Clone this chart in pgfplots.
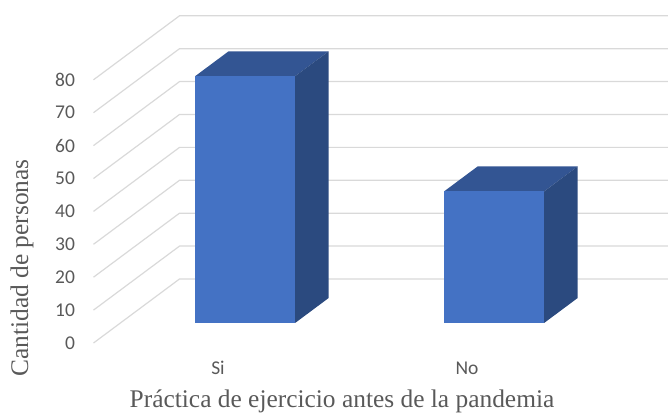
\documentclass[border=0pt]{standalone}
\usepackage{fontspec}
\setmainfont{Liberation Serif}
\newfontfamily\calib{Carlito}
\usepackage{pgfplots}
\pgfplotsset{compat=1.18}
\definecolor{front}{HTML}{4472C4}
\definecolor{topc}{HTML}{335593}
\definecolor{side}{HTML}{2B4A7F}
\definecolor{gridc}{HTML}{D9D9D9}
\definecolor{txt}{HTML}{595959}
\begin{document}
\begin{tikzpicture}
\begin{axis}[
  x={(249pt,0pt)}, y={(86pt,64pt)}, z={(0pt,3.29pt)},
  hide axis, clip=false,
  xmin=-0.5, xmax=1.462, ymin=0, ymax=1, zmin=0, zmax=80,
]
\coordinate (O) at (axis cs:0,0,0);
% gridlines: left wall and back wall
\pgfplotsinvokeforeach{0,10,...,80}{
  \addplot3[gridc, line width=1.2pt] coordinates {(-0.5,0,#1) (-0.5,1,#1) (1.462,1,#1)};
  \node[anchor=east, text=txt, font=\calib\fontsize{19.5}{19.5}\selectfont] at (axis cs:-0.5,0,#1) [xshift=-15pt] {#1};
}
% Bar "Si" = 75
\addplot3[fill=topc, draw=none] coordinates {(-0.2,0.3125,75) (0.2016,0.3125,75) (0.2016,0.703,75) (-0.2,0.703,75)};
\addplot3[fill=side, draw=none] coordinates {(0.2016,0.3125,0) (0.2016,0.703,0) (0.2016,0.703,75) (0.2016,0.3125,75)};
\addplot3[fill=front, draw=none] coordinates {(-0.2,0.3125,0) (0.2016,0.3125,0) (0.2016,0.3125,75) (-0.2,0.3125,75)};
% Bar "No" = 40
\addplot3[fill=topc, draw=none] coordinates {(0.8,0.3125,40) (1.2016,0.3125,40) (1.2016,0.703,40) (0.8,0.703,40)};
\addplot3[fill=side, draw=none] coordinates {(1.2016,0.3125,0) (1.2016,0.703,0) (1.2016,0.703,40) (1.2016,0.3125,40)};
\addplot3[fill=front, draw=none] coordinates {(0.8,0.3125,0) (1.2016,0.3125,0) (1.2016,0.3125,40) (0.8,0.3125,40)};
% category labels
\node[text=txt, font=\calib\fontsize{19.5}{19.5}\selectfont] at (axis cs:0,0,0) [yshift=-25pt] {Si};
\node[text=txt, font=\calib\fontsize{19.5}{19.5}\selectfont] at (axis cs:1,0,0) [yshift=-25pt] {No};
\end{axis}
\node[rotate=90, text=txt, font=\fontsize{25.4}{25.4}\selectfont] at ([shift={(-196pt,75pt)}]O) {Cantidad de personas};
\node[text=txt, font=\fontsize{25.4}{25.4}\selectfont] at ([shift={(124pt,-58pt)}]O) {Práctica de ejercicio antes de la pandemia};
\pgfresetboundingbox
\path[use as bounding box] ([shift={(-218pt,-71pt)}]O) rectangle ([shift={(450pt,343pt)}]O);
\end{tikzpicture}
\end{document}
